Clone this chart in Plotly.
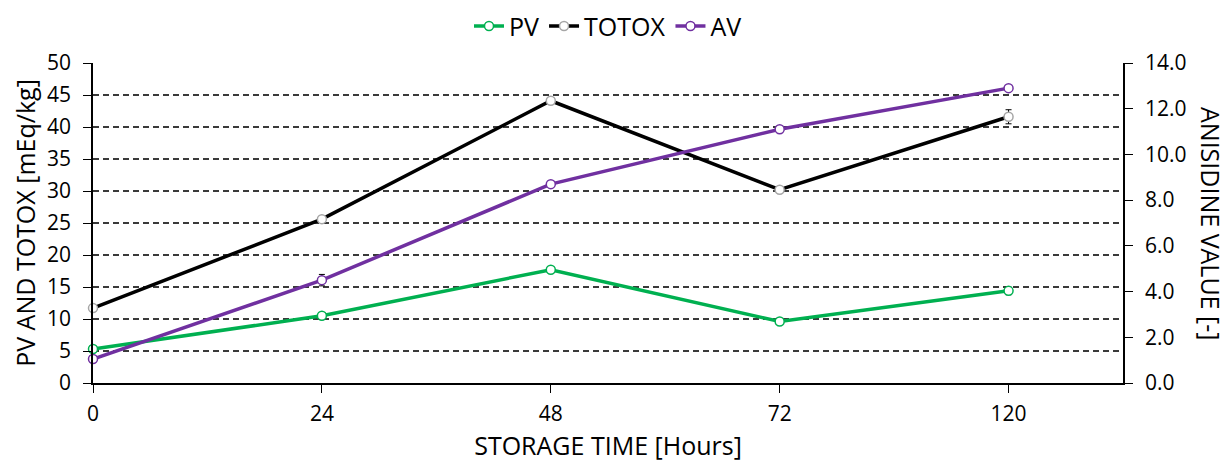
import plotly.graph_objects as go

# storage time categories (hours)
hours = ["0", "24", "48", "72", "120"]
pv = [5.3, 10.5, 17.7, 9.6, 14.4]
pv_err = [0.2, 0.2, 0.2, 0.2, 0.6]
totox = [11.7, 25.6, 44.1, 30.2, 41.6]
totox_err = [0.3, 0.3, 0.3, 0.3, 1.1]
av = [1.05, 4.5, 8.7, 11.1, 12.9]
av_err = [0.05, 0.25, 0.08, 0.08, 0.08]

x_pos = list(range(len(hours)))

GREEN = "#00B050"
PURPLE = "#7030A0"
FONT = "Open Sans"

fig = go.Figure()

fig.add_trace(go.Scatter(
    x=x_pos, y=pv, name="PV", mode="lines+markers",
    line=dict(color=GREEN, width=3.5),
    marker=dict(symbol="circle", size=9, color="white", line=dict(color=GREEN, width=1.5)),
    error_y=dict(type="data", array=pv_err, color="black", thickness=1, width=3),
    cliponaxis=False,
))
fig.add_trace(go.Scatter(
    x=x_pos, y=totox, name="TOTOX", mode="lines+markers",
    line=dict(color="black", width=3.5),
    marker=dict(symbol="circle", size=9, color="white", line=dict(color="#A6A6A6", width=1.5)),
    error_y=dict(type="data", array=totox_err, color="black", thickness=1, width=3),
    cliponaxis=False,
))
fig.add_trace(go.Scatter(
    x=x_pos, y=av, name="AV", mode="lines+markers", yaxis="y2",
    line=dict(color=PURPLE, width=3.5),
    marker=dict(symbol="circle", size=9, color="white", line=dict(color=PURPLE, width=1.5)),
    error_y=dict(type="data", array=av_err, color="black", thickness=1, width=3),
    cliponaxis=False,
))

# page body adds an 8px offset, margins compensate for it
fig.update_layout(
    width=1232, height=468,
    margin=dict(l=85, r=117, t=55, b=93, autoexpand=False),
    paper_bgcolor="white", plot_bgcolor="white",
    font=dict(family=FONT, size=21, color="black"),
    showlegend=True,
    legend=dict(orientation="h", x=0.5, xanchor="center", y=1.115, yanchor="middle",
                yref="paper", font=dict(size=25), itemwidth=30,
                traceorder="normal", tracegroupgap=0),
    xaxis=dict(
        tickvals=x_pos, ticktext=hours, range=[0, 4.5], automargin=False,
        showgrid=False, zeroline=False,
        showline=True, linecolor="black", linewidth=1.5,
        ticks="outside", ticklen=8, tickcolor="black", ticklabelstandoff=3,
        title=dict(text="STORAGE TIME [Hours]", font=dict(size=25), standoff=12),
    ),
    yaxis=dict(
        range=[0, 50], dtick=5, automargin=False,
        showgrid=True, gridcolor="#3a3a3a", griddash="6px,4px", gridwidth=1.5,
        zeroline=False,
        showline=True, linecolor="black", linewidth=1.5,
        ticks="outside", ticklen=8, tickcolor="black", ticklabelstandoff=8,
        title=dict(text="PV AND TOTOX [mEq/kg]", font=dict(size=25), standoff=6),
    ),
    yaxis2=dict(
        range=[0, 14], dtick=2, tickformat=".1f", automargin=False,
        overlaying="y", side="right", showgrid=False, zeroline=False,
        showline=True, linecolor="black", linewidth=1.5,
        ticks="outside", ticklen=8, tickcolor="black", ticklabelstandoff=8,
    ),
    annotations=[dict(
        text="ANISIDINE VALUE [-]", textangle=90, showarrow=False,
        xref="paper", yref="paper", x=1.0, xshift=88, y=0.5,
        xanchor="center", yanchor="middle", font=dict(size=25),
    )],
)

fig.write_html("out.html")
